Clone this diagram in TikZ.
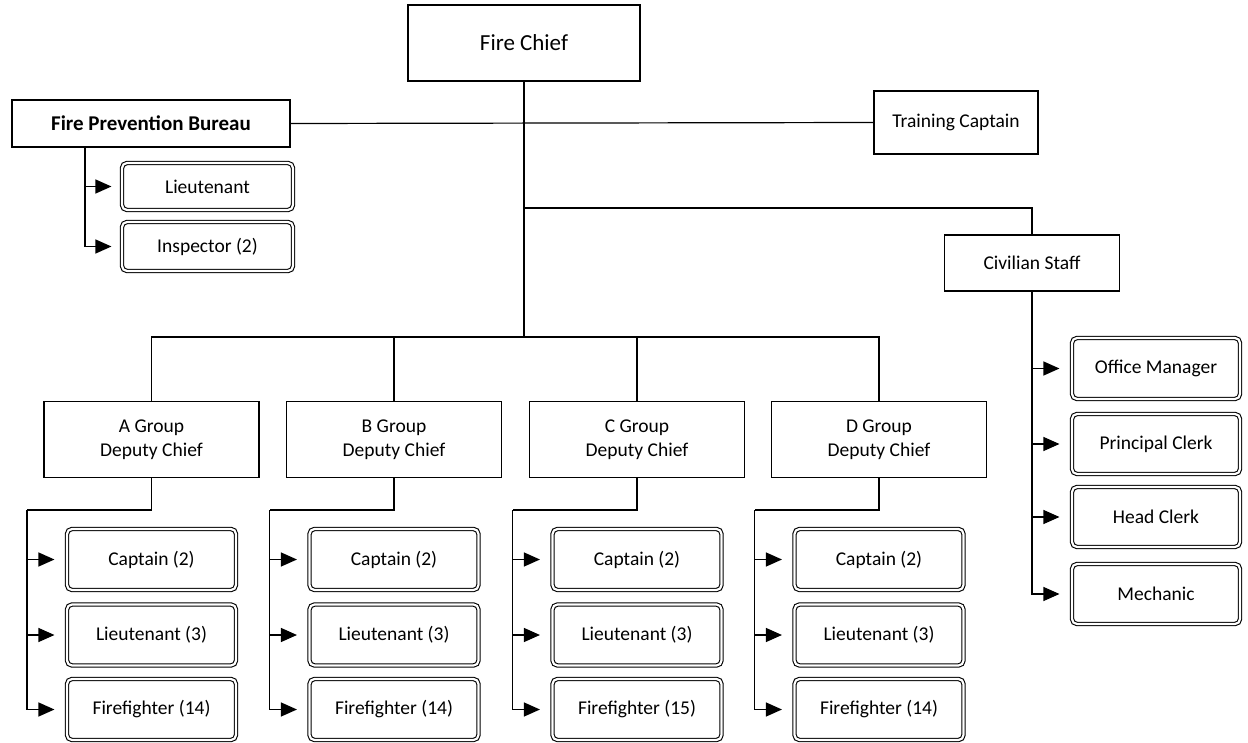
\documentclass[tikz,border=0pt]{standalone}
\usepackage{fontspec}
\setmainfont{Carlito}
\usetikzlibrary{arrows.meta}
\begin{document}
\begin{tikzpicture}[x=1pt,y=-1pt,
  box/.style={draw, line width=1.3pt, inner sep=0pt, align=center, font=\fontsize{19.5}{24}\selectfont},
  dbox/.style={draw, double=white, double distance=2.2pt, line width=1.1pt, rounded corners=5pt, inner sep=0pt, align=center,
     minimum width=169pt, minimum height=61pt, font=\fontsize{19.5}{24}\selectfont},
  conn/.style={line width=1.2pt},
  arr/.style={line width=1.2pt, -{Triangle[length=16pt,width=14pt]}}]
\useasboundingbox (0,0) rectangle (1248,743);
% top level
\node[box, minimum width=232pt, minimum height=76pt, font=\fontsize{23}{27}\selectfont] (chief) at (524,43) {Fire Chief};
\node[box, line width=1.8pt, minimum width=278pt, minimum height=47pt, font=\fontsize{21}{25}\selectfont\bfseries] (fpb) at (151,123.5) {Fire Prevention Bureau};
\node[box, minimum width=164pt, minimum height=63pt] (train) at (956,122.5) {Training Captain};
\node[box, line width=1.8pt, minimum width=175pt, minimum height=56pt] (civ) at (1032,263) {Civilian Staff};
% FPB subs
\node[dbox, minimum width=171pt, minimum height=47pt] (fl) at (207.5,186.5) {Lieutenant};
\node[dbox, minimum width=171pt, minimum height=49pt] (fi) at (207.5,246.5) {Inspector (2)};
% civilian subs
\node[dbox, minimum width=168pt] (om) at (1156,368.5) {Office Manager};
\node[dbox, minimum width=168pt, minimum height=60pt] (pc) at (1156,444) {Principal Clerk};
\node[dbox, minimum width=168pt, minimum height=60pt] (hc) at (1156,517) {Head Clerk};
\node[dbox, minimum width=168pt, minimum height=60pt] (me) at (1156,594) {Mechanic};
% groups
\foreach \g/\cx/\ff in {A/151.5/14, B/394/14, C/637/15, D/879/14} {
  \node[box, minimum width=215pt, minimum height=76pt] (g\g) at (\cx,439.5) {\g\ Group\\Deputy Chief};
  \node[dbox] (cap\g) at (\cx,559.5) {Captain (2)};
  \node[dbox] (lt\g) at (\cx,635) {Lieutenant (3)};
  \node[dbox] (ff\g) at (\cx,709.5) {Firefighter (\ff)};
  \coordinate (s\g) at (\cx-124.5,510);
}
% connectors
\coordinate (bar) at (524,337);
\coordinate (cv) at (524,208);
\draw[conn] (chief.south) -- (bar);
\draw[conn] (fpb.east) -- (train.west);
\draw[conn] (cv) -| (civ.north);
\draw[conn] (gA.north) -- (gA.north |- bar) -- (gD.north |- bar) -- (gD.north);
\draw[conn] (gB.north) -- (gB.north |- bar);
\draw[conn] (gC.north) -- (gC.north |- bar);
\foreach \g in {A,B,C,D} {
  \draw[conn] (g\g.south) |- (s\g);
  \draw[arr] (s\g) |- ([xshift=-12pt]cap\g.west);
  \draw[arr] (s\g) |- ([xshift=-12pt]lt\g.west);
  \draw[arr] (s\g) |- ([xshift=-12pt]ff\g.west);
}
\coordinate (fs) at (85,147);
\draw[arr] (fs) |- ([xshift=-10pt]fl.west);
\draw[arr] (fs) |- ([xshift=-10pt]fi.west);
\draw[arr] (civ.south) |- ([xshift=-12pt]om.west);
\draw[arr] (civ.south) |- ([xshift=-12pt]pc.west);
\draw[arr] (civ.south) |- ([xshift=-12pt]hc.west);
\draw[arr] (civ.south) |- ([xshift=-12pt]me.west);
\end{tikzpicture}
\end{document}
